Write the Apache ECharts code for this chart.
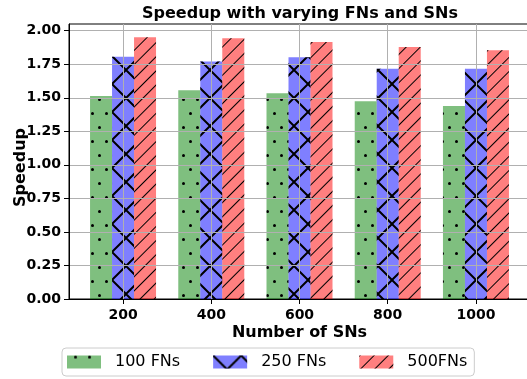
<!DOCTYPE html>
<html><head><meta charset="utf-8">
<script src="https://cdn.jsdelivr.net/npm/echarts@6/dist/echarts.min.js"></script>
<style>html,body{margin:0;padding:0;background:#fff}#c{width:527px;height:379px}</style>
</head><body><div id="c"></div>
<script>
// ---- data ----
const categories = ['200', '400', '600', '800', '1000'];
const seriesNames = ['100 FNs', '250 FNs', '500FNs'];
const fn100 = [1.514, 1.556, 1.534, 1.474, 1.439];
const fn250 = [1.805, 1.770, 1.802, 1.717, 1.717];
const fn500 = [1.951, 1.944, 1.916, 1.879, 1.855];
const yTicks = [0, 0.25, 0.5, 0.75, 1.0, 1.25, 1.5, 1.75, 2.0];
const xTicks = [0, 1, 2, 3, 4];

const F = 'DejaVu Sans';
const values = [fn100, fn250, fn500];
const fills = ['rgba(0,128,0,0.5)', 'rgba(0,0,255,0.5)', 'rgba(255,0,0,0.5)'];
const decals = [
  { symbol: 'circle', symbolSize: 1, dashArrayX: [[3, 11], [0, 7, 3, 4]], dashArrayY: [3, 11], color: '#000' },
  { symbol: 'path://M0,0L5,0L100,95L100,100L95,100L0,5Z M100,0L100,5L5,100L0,100L0,95L95,0Z', symbolSize: 1, dashArrayX: [28, 0], dashArrayY: [28, 0], color: '#000' },
  { symbol: 'rect', symbolSize: 1, dashArrayX: [1, 0], dashArrayY: [1, 9], rotation: -Math.PI / 4, color: '#000' }
];

const chart = echarts.init(document.getElementById('c'), null, { renderer: 'canvas' });
const barSeries = seriesNames.map((n, i) => ({
  type: 'bar', name: n, z: 2,
  data: values[i].map((v, j) => [j, v]),
  barWidth: 22, barGap: '0%',
  itemStyle: { color: fills[i], decal: decals[i] },
  emphasis: { disabled: true }
}));
// vertical grid lines at the tick positions (middle series has zero bar offset)
barSeries[1].markLine = {
  silent: true, symbol: ['none', 'none'], label: { show: false }, animation: false, z: 5,
  lineStyle: { color: '#b0b0b0', width: 1, type: 'solid', opacity: 1 },
  emphasis: { disabled: true },
  data: xTicks.map(v => ({ xAxis: v }))
};
chart.setOption({
  animation: false,
  textStyle: { fontFamily: F },
  title: {
    text: 'Speedup with varying FNs and SNs', left: 142, top: 6, padding: 0,
    textStyle: { fontFamily: F, fontWeight: 'bold', fontSize: 16, color: '#000' }
  },
  grid: { left: 69, top: 24, right: -3, bottom: 80, show: true, borderColor: '#000', borderWidth: 1,
          containLabel: false, outerBoundsMode: 'none' },
  legend: {
    left: 62, top: 348, orient: 'horizontal', padding: [6, 7, 6, 5], itemGap: 33,
    itemWidth: 34, itemHeight: 13, icon: 'rect',
    borderColor: '#cccccc', borderWidth: 1, borderRadius: 4, backgroundColor: '#fff',
    textStyle: { fontFamily: F, fontSize: 16, color: '#000', padding: [0, 0, 0, 9] },
    data: seriesNames
  },
  xAxis: {
    type: 'value', min: -0.6125, max: 4.6125, z: 3,
    name: 'Number of SNs', nameLocation: 'middle', nameGap: 26, nameMoveOverlap: false,
    nameTextStyle: { fontFamily: F, fontWeight: 'bold', fontSize: 16, color: '#000' },
    axisLine: { show: true, onZero: false, lineStyle: { color: '#000', width: 1 } },
    axisTick: { show: true, length: 5, customValues: xTicks, lineStyle: { color: '#000' } },
    axisLabel: { customValues: xTicks, margin: 9, color: '#000', fontWeight: 'bold', fontSize: 14, fontFamily: F,
      formatter: v => { const i = Math.round(v); return Math.abs(v - i) < 1e-6 && categories[i] ? categories[i] : ''; } },
    splitLine: { show: false }
  },
  yAxis: {
    type: 'value', min: 0, max: 2.05, z: 3,
    name: 'Speedup', nameLocation: 'middle', nameGap: 40, nameMoveOverlap: false,
    nameTextStyle: { fontFamily: F, fontWeight: 'bold', fontSize: 16, color: '#000', padding: [0, 12, 0, 0] },
    axisLine: { show: true, onZero: false, lineStyle: { color: '#000', width: 1 } },
    axisTick: { show: true, length: 5, customValues: yTicks, lineStyle: { color: '#000' } },
    axisLabel: { customValues: yTicks, margin: 8, color: '#000', fontWeight: 'bold', fontSize: 14, fontFamily: F,
      formatter: v => v.toFixed(2) },
    splitLine: { show: true, lineStyle: { color: '#b0b0b0', width: 1 } }
  },
  series: barSeries
});
</script></body></html>
